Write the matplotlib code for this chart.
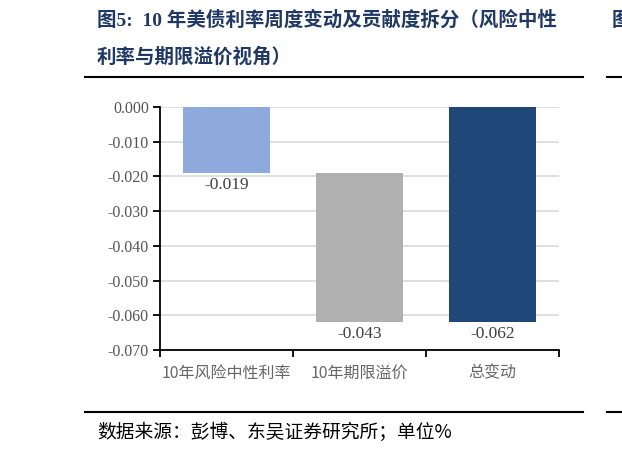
import matplotlib
matplotlib.use("Agg")
import matplotlib.pyplot as plt
from matplotlib.lines import Line2D

plt.rcParams['font.family'] = ['Liberation Serif', 'Noto Sans CJK SC']

categories = ['10年风险中性利率', '10年期限溢价', '总变动']
changes = [-0.019, -0.043]
total = sum(changes)
values = changes + [total]
bottoms = [0, changes[0], 0]
colors = ['#8EA9DB', '#B0B0B0', '#1F4778']
yticks = [0.000, -0.010, -0.020, -0.030, -0.040, -0.050, -0.060, -0.070]

title_lines = ['图5:  10 年美债利率周度变动及贡献度拆分（风险中性', '利率与期限溢价视角）']
source = '数据来源：彭博、东吴证券研究所；单位%'

fig = plt.figure(figsize=(6.22, 4.51), dpi=100)
W, H = 622, 451

def fx(px):
    return px / W

def fy(py):
    return 1 - py / H

ax = fig.add_axes([fx(160), fy(350), fx(559) - fx(160), fy(107) - fy(350)])

x = range(len(categories))
ax.bar(x, values, bottom=bottoms, width=0.66, color=colors, zorder=3)
for i, (v, b) in enumerate(zip(values, bottoms)):
    ax.annotate(f'{values[i]:.3f}', (i, v + b), xytext=(0, -3), textcoords='offset points',
                ha='center', va='top', fontsize=12.5, color='#404040',
                family='Liberation Serif')

ax.set_xlim(-0.5, 2.5)
ax.set_ylim(-0.070, 0.0)
ax.set_yticks(yticks)
ax.set_yticklabels([f'{t:.3f}' for t in yticks], fontsize=11.5, color='#555555')
ax.yaxis.grid(True, color='#D9D9D9', linewidth=1.2, zorder=0)
ax.set_axisbelow(True)

ax.set_xticks([-0.5, 0.5, 1.5, 2.5])
ax.set_xticklabels([])
ax.tick_params(axis='x', direction='out', length=5, width=1.3, color='black')
ax.tick_params(axis='y', direction='out', length=5, width=1.3, color='black', pad=3)
for i, c in enumerate(categories):
    ax.text(i, -0.0742, c, ha='center', va='top', fontsize=11.5, color='#666666',
            family=['Noto Sans CJK SC'], transform=ax.transData)

for s in ['top', 'right']:
    ax.spines[s].set_visible(False)
ax.spines['left'].set_linewidth(1.3)
ax.spines['bottom'].set_linewidth(1.3)

# title
fig.text(fx(97), fy(20), title_lines[0], ha='left', va='center', fontsize=14,
         fontweight='bold', color='#1F3864', family=['Liberation Serif', 'Noto Sans CJK SC'])
fig.text(fx(97), fy(57), title_lines[1], ha='left', va='center', fontsize=14,
         fontweight='bold', color='#1F3864', family=['Noto Sans CJK SC'])
fig.text(fx(612), fy(20), '图', ha='left', va='center', fontsize=14,
         fontweight='bold', color='#1F3864', family=['Noto Sans CJK SC'])

# rules
for yy in [77, 412]:
    fig.add_artist(Line2D([fx(85), fx(583)], [fy(yy), fy(yy)], color='black', linewidth=1.5))
    fig.add_artist(Line2D([fx(607), fx(622)], [fy(yy), fy(yy)], color='black', linewidth=1.5))

fig.text(fx(97), fy(432), source, ha='left', va='center', fontsize=13.5, color='black',
         family=['Noto Sans CJK SC'])

fig.savefig('out.png', dpi=100)
